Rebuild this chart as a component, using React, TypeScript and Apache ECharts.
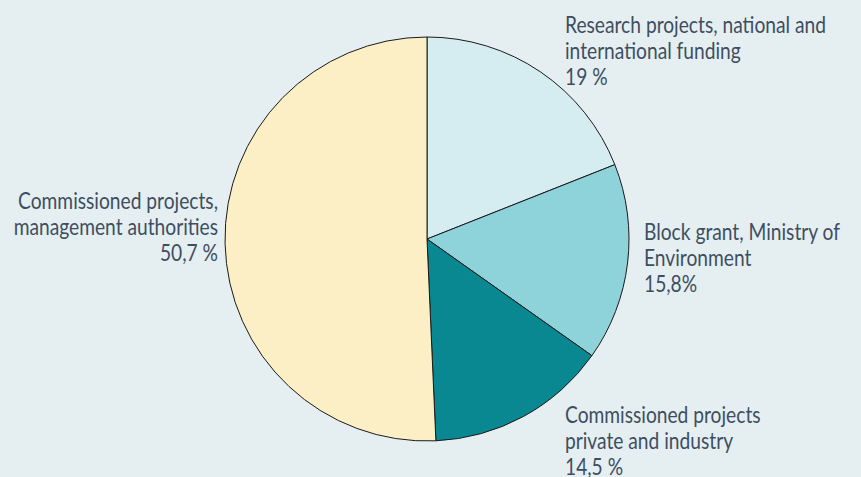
import React, { useEffect, useRef } from "react";
import * as echarts from "echarts";

const categories = [
  "Research projects, national and\ninternational funding",
  "Block grant, Ministry of\nEnvironment",
  "Commissioned projects\nprivate and industry",
  "Commissioned projects,\nmanagement authorities",
];
const values = [19, 15.8, 14.5, 50.7];
const valueLabels = ["19 %", "15,8%", "14,5 %", "50,7 %"];
const colors = ["#d5ecf0", "#8fd3da", "#0a8892", "#fdefc5"];

const labelPos = [
  { x: 565, y: 11, align: "left" },
  { x: 644, y: 218, align: "left" },
  { x: 565, y: 401, align: "left" },
  { x: 218, y: 187, align: "right" },
];

export default function App() {
  const ref = useRef<HTMLDivElement>(null);
  useEffect(() => {
    if (!ref.current) return;
    const chart = echarts.init(ref.current, null, { renderer: "svg" });
    chart.setOption({
      animation: false,
      backgroundColor: "#e5eff2",
      series: [
        {
          type: "pie",
          center: [427, 239],
          radius: 202,
          startAngle: 90,
          clockwise: true,
          data: categories.map((c, i) => ({
            name: c,
            value: values[i],
            itemStyle: { color: colors[i] },
          })),
          itemStyle: { borderColor: "#1a1a1a", borderWidth: 1 },
          labelLine: { show: false },
          label: { show: false },
          emphasis: { disabled: true },
        },
      ],
      graphic: categories.map((c, i) => ({
        type: "text",
        x: labelPos[i].x,
        y: labelPos[i].y,
        scaleX: 0.8,
        silent: true,
        style: {
          text: c + "\n" + valueLabels[i],
          fill: "#3e4e60",
          font: "24px Lato, 'Noto Sans', sans-serif",
          lineHeight: 26,
          textAlign: labelPos[i].align,
          textVerticalAlign: "top",
        },
      })),
    });
    return () => chart.dispose();
  }, []);
  return <div ref={ref} style={{ width: 861, height: 477, position: "absolute", left: 0, top: 0 }} />;
}
